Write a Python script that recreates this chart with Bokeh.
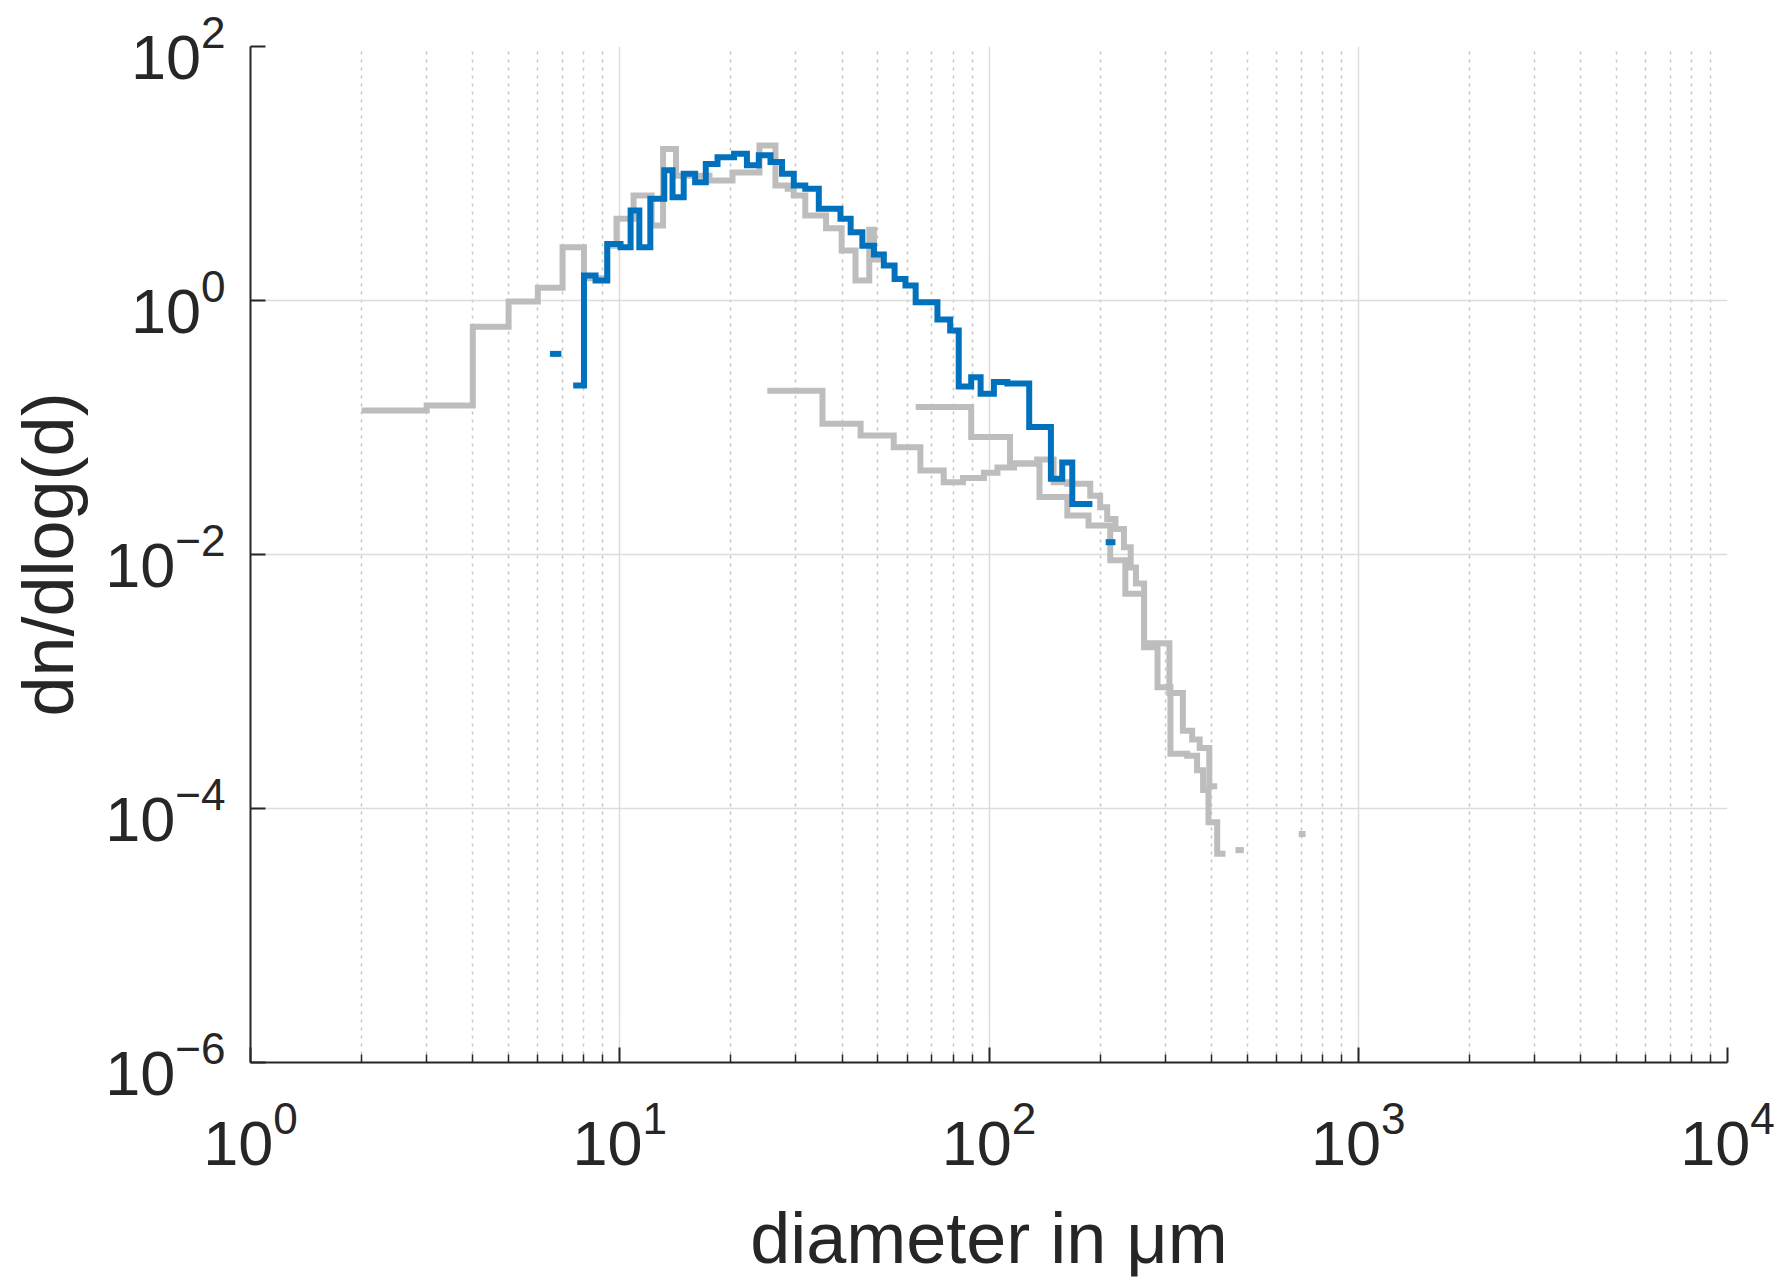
from bokeh.plotting import figure
from bokeh.models import FixedTicker, LogTickFormatter
from bokeh.embed import file_html
from bokeh.resources import INLINE

# ---------------- data (bin edges in µm, dn/dlog(d) per bin) ----------------
blue_edges = [7.48, 8.0, 8.6, 9.25, 10.05, 10.7, 11.3, 12.1, 13.2, 13.9, 14.9, 16.0,
              17.1, 18.4, 20.4, 22.1, 23.8, 25.6, 27.5, 29.6, 31.8, 34.6, 39.6, 42.2,
              45.4, 48.8, 51.9, 55.5, 59.4, 63.3, 72.5, 78.5, 82.8, 89.5, 94.9, 103.1,
              112.1, 128.5, 147.1, 157.9, 168.1, 190.6]
blue_vals = [0.214, 1.57, 1.44, 2.79, 2.63, 5.12, 2.63, 6.33, 10.6, 6.5, 9.95, 8.55,
             11.9, 13.4, 14.3, 11.6, 13.9, 12.3, 9.95, 8.05, 7.59, 5.27, 4.40, 3.45,
             2.70, 2.30, 1.89, 1.48, 1.31, 0.97, 0.71, 0.58, 0.21, 0.249, 0.184, 0.228,
             0.222, 0.101, 0.0394, 0.053, 0.025]
blue_iso_left = [6.47, 207.0]
blue_iso_right = [6.95, 220.0]
blue_iso_vals = [0.38, 0.0125]

grey_a_edges = [2.0, 3.0, 4.0, 5.0, 6.0, 7.0, 8.0, 9.25, 9.8, 10.9, 12.2, 13.1, 14.2,
                17.5, 20.2, 23.9, 26.4, 28.5, 29.6, 31.8, 36.2, 39.9, 43.5, 47.4, 48.8, 51.4]
grey_a_vals = [0.136, 0.149, 0.62, 0.98, 1.26, 2.63, 1.5, 2.7, 4.4, 6.7, 3.9, 15.6,
               9.6, 8.8, 10.2, 16.6, 8.05, 7.6, 6.7, 4.67, 3.7, 2.48, 1.44, 3.6, 2.1]

grey_b_edges = [25.1, 35.4, 44.9, 55.2, 65.2, 75.4, 85.0, 96.9, 105.4, 116.9, 135.0,
                149.6, 163, 188, 200, 209, 220, 232, 242, 250, 263, 308, 335, 355,
                372, 395, 415]
grey_b_vals = [0.195, 0.107, 0.0865, 0.070, 0.0459, 0.037, 0.040, 0.044, 0.0485, 0.052,
               0.056, 0.037, 0.036, 0.029, 0.0236, 0.019, 0.0159, 0.0114, 0.0079, 0.0059,
               0.0020, 0.00081, 0.00041, 0.00035, 0.0003, 0.00015]

grey_c_edges = [63.3, 89.5, 114, 137, 163, 186, 213, 234, 263, 286, 310, 344, 366, 380,
                393, 415, 437]
grey_c_vals = [0.145, 0.084, 0.052, 0.0283, 0.0203, 0.0169, 0.009, 0.0049, 0.00186,
               0.0009, 0.00027, 0.00026, 0.0002, 0.00014, 7.8e-5, 4.4e-5]

grey_iso_left = [465.0, 690.0]
grey_iso_right = [490.0, 720.0]
grey_iso_vals = [4.7e-5, 6.3e-5]

x_major = [1, 10, 100, 1000, 10000]
y_major = [1e-6, 1e-4, 1e-2, 1, 1e2]

# ---------------- styling ----------------
BLUE = "#0072BD"
GREY = "#BDBDBD"
TXT = "#262626"
FONT = "Liberation Sans"
LW = 6

p = figure(width=1777, height=1284, x_axis_type="log", y_axis_type="log",
           x_range=(1, 1e4), y_range=(1e-6, 1e2),
           output_backend="svg", toolbar_location=None,
           min_border_left=250, min_border_right=50, min_border_top=46,
           min_border_bottom=222)
p.outline_line_color = None
p.background_fill_color = "white"

x_minor = [m * 10 ** k for k in range(4) for m in range(2, 10)]
p.xaxis.ticker = FixedTicker(ticks=x_major, minor_ticks=x_minor)
p.yaxis.ticker = FixedTicker(ticks=y_major, minor_ticks=[])
p.xaxis.formatter = LogTickFormatter()
p.yaxis.formatter = LogTickFormatter()

for ax in (p.xaxis, p.yaxis):
    ax.axis_line_color = TXT
    ax.axis_line_width = 2
    ax.major_tick_in = 15
    ax.major_tick_out = 0
    ax.major_tick_line_color = TXT
    ax.major_tick_line_width = 2
    ax.minor_tick_in = 8
    ax.minor_tick_out = 0
    ax.minor_tick_line_color = TXT
    ax.minor_tick_line_width = 1.5
    ax.major_label_text_font = FONT
    ax.major_label_text_font_size = "63px"
    ax.major_label_text_color = TXT
    ax.axis_label_text_font = FONT
    ax.axis_label_text_font_size = "72px"
    ax.axis_label_text_font_style = "normal"
    ax.axis_label_text_color = TXT

p.xaxis.axis_label = "diameter in μm"
p.yaxis.axis_label = "dn/dlog(d)"
p.xaxis.major_label_standoff = 38
p.xaxis.axis_label_standoff = 30
p.yaxis.major_label_standoff = 25
p.yaxis.axis_label_standoff = 14
p.yaxis.minor_tick_line_color = None

p.xgrid.grid_line_color = "#DCDCDC"
p.xgrid.grid_line_width = 1.5
p.xgrid.minor_grid_line_color = "#C4C4C4"
p.xgrid.minor_grid_line_dash = "3 5"
p.xgrid.minor_grid_line_width = 1.5
p.ygrid.grid_line_color = "#DCDCDC"
p.ygrid.grid_line_width = 1.5


def steps(edges, vals, color):
    p.step(x=edges, y=list(vals) + [vals[-1]], mode="after",
           line_color=color, line_width=LW, line_join="miter")


steps(grey_a_edges, grey_a_vals, GREY)
steps(grey_b_edges, grey_b_vals, GREY)
steps(grey_c_edges, grey_c_vals, GREY)
p.segment(x0=grey_iso_left, y0=grey_iso_vals, x1=grey_iso_right, y1=grey_iso_vals,
          line_color=GREY, line_width=LW)
steps(blue_edges, blue_vals, BLUE)
p.segment(x0=blue_iso_left, y0=blue_iso_vals, x1=blue_iso_right, y1=blue_iso_vals,
          line_color=BLUE, line_width=LW)

open("out.html", "w").write(file_html(p, INLINE))
